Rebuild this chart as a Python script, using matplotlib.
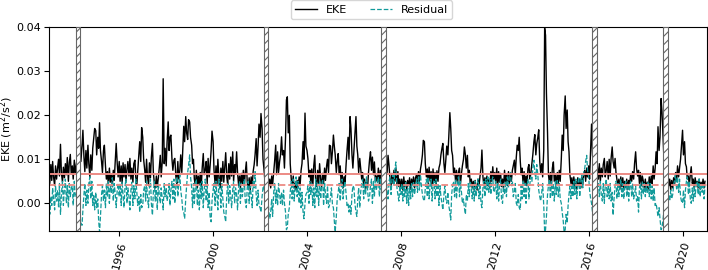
"""
EKE time series with residual, thresholds and event windows.
"""

import matplotlib
matplotlib.use('Agg')
import matplotlib.pyplot as plt
import matplotlib.dates as mdates
import numpy as np
import pandas as pd

plt.rcParams.update({
    'font.family': 'DejaVu Sans',
    'font.size': 8,
    'hatch.linewidth': 0.8,
})

# semi-monthly values, units of 1e-4 m^2/s^2, one row per year (1993..2020)
eke = [
    75, 45, 88, 52, 95, 60, 40, 85, 55, 78, 100, 62, 134, 70, 48, 82, 58, 90, 65, 104, 50, 92, 111, 66,        # 1993
    85, 55, 98, 70, 84, 100, 120, 140, 155, 95, 130, 166, 105, 72, 120, 80, 132, 90, 60, 110, 75, 125, 150, 170,  # 1994
    165, 110, 150, 125, 183, 120, 95, 70, 120, 132, 85, 55, 72, 42, 80, 48, 66, 38, 75, 52, 98, 136, 90, 60,     # 1995
    95, 50, 85, 45, 92, 60, 88, 50, 78, 95, 62, 102, 55, 80, 48, 90, 98, 58, 42, 74, 110, 140, 95, 172,        # 1996
    150, 100, 75, 48, 100, 62, 40, 92, 58, 105, 136, 70, 45, 35, 62, 38, 58, 80, 109, 60, 95, 283, 90, 125,     # 1997
    85, 140, 185, 120, 150, 155, 100, 75, 98, 102, 60, 45, 95, 55, 75, 110, 70, 120, 175, 140, 197, 160, 145, 190,  # 1998
    185, 150, 132, 90, 100, 55, 40, 75, 35, 62, 42, 70, 38, 80, 113, 65, 76, 95, 45, 102, 60, 85, 120, 164,     # 1999
    140, 75, 45, 85, 40, 100, 55, 35, 80, 50, 95, 48, 85, 115, 60, 42, 90, 55, 105, 62, 117, 50, 88, 70,       # 2000
    117, 70, 40, 62, 35, 68, 45, 75, 38, 70, 94, 48, 35, 58, 30, 60, 40, 72, 88, 110, 147, 85, 130, 180,       # 2001
    150, 204, 170, 100, 80, 55, 72, 48, 65, 40, 55, 35, 62, 42, 72, 95, 132, 65, 117, 70, 95, 110, 151, 110,     # 2002
    120, 80, 150, 235, 242, 160, 200, 90, 55, 40, 62, 35, 45, 30, 52, 38, 60, 40, 75, 90, 140, 100, 205, 130,    # 2003
    120, 102, 60, 75, 45, 78, 40, 85, 109, 50, 38, 75, 45, 90, 55, 38, 68, 45, 80, 52, 85, 100, 70, 132,       # 2004
    130, 90, 120, 155, 130, 110, 70, 95, 113, 65, 85, 45, 70, 35, 60, 45, 90, 120, 150, 100, 197, 170, 110, 80,   # 2005
    120, 150, 197, 130, 110, 70, 102, 80, 55, 70, 40, 55, 32, 48, 35, 70, 100, 117, 75, 105, 65, 94, 50, 62,     # 2006
    48, 80, 45, 75, 55, 80, 60, 65, 78, 90, 70, 109, 85, 55, 40, 68, 45, 75, 50, 80, 42, 72, 38, 55,          # 2007
    35, 55, 30, 60, 38, 50, 30, 52, 40, 58, 32, 55, 42, 60, 35, 58, 65, 45, 72, 50, 78, 90, 110, 143,         # 2008
    140, 90, 60, 78, 45, 82, 50, 72, 40, 78, 48, 70, 38, 74, 50, 80, 90, 110, 125, 136, 90, 70, 100, 130,      # 2009
    110, 150, 206, 170, 120, 109, 65, 80, 50, 75, 45, 70, 80, 42, 68, 85, 100, 128, 110, 80, 109, 60, 75, 45,    # 2010
    55, 35, 50, 30, 52, 38, 30, 55, 40, 60, 80, 121, 60, 40, 58, 45, 62, 40, 55, 35, 72, 50, 83, 55,          # 2011
    70, 45, 80, 40, 72, 48, 68, 38, 55, 35, 75, 48, 66, 40, 72, 45, 64, 50, 75, 85, 98, 65, 105, 132,         # 2012
    120, 150, 95, 65, 80, 48, 72, 45, 62, 40, 80, 88, 55, 68, 90, 110, 140, 156, 110, 135, 150, 167, 95, 70,    # 2013
    90, 60, 120, 398, 382, 250, 160, 65, 45, 70, 40, 80, 94, 50, 65, 42, 70, 45, 75, 50, 100, 155, 120, 200,    # 2014
    244, 170, 212, 140, 117, 65, 45, 58, 35, 60, 38, 50, 32, 58, 40, 55, 35, 60, 42, 65, 75, 50, 80, 60,       # 2015
    85, 55, 120, 180, 110, 90, 80, 75, 70, 85, 55, 90, 50, 80, 60, 88, 102, 60, 75, 95, 55, 100, 62, 102,      # 2016
    128, 95, 80, 102, 70, 55, 40, 55, 32, 60, 38, 58, 30, 50, 36, 55, 32, 52, 45, 65, 50, 72, 55, 90,         # 2017
    117, 80, 62, 75, 45, 70, 40, 62, 50, 35, 55, 30, 48, 32, 60, 38, 62, 45, 85, 55, 80, 117, 90, 174,        # 2018
    120, 150, 238, 208, 160, 110, 90, 70, 80, 55, 40, 55, 30, 52, 35, 58, 45, 70, 50, 85, 60, 80, 100, 130,     # 2019
    166, 110, 140, 90, 83, 55, 62, 40, 66, 83, 45, 55, 35, 58, 40, 50, 35, 55, 32, 48, 38, 55, 35, 50,        # 2020
]

residual = [
    25, -25, 15, -5, 35, 10, -15, 40, 5, 30, -8, 45, -25, 20, 50, -5, 35, 55, 0, 40, -10, 48, 15, 35,         # 1993
    40, -5, 50, 15, 20, 25, 5, -10, -30, -45, -50, -15, 20, 45, -5, 30, 0, 45, 60, 10, 50, -5, 20, -15,       # 1994
    25, -10, 10, -40, -65, -30, 20, 40, 5, 30, -10, 45, 15, 50, 0, 40, 25, 58, 5, 45, 20, -10, 30, 45,        # 1995
    15, 45, -5, 50, 20, -10, 40, 55, 0, 35, 15, -15, 30, 48, -5, 40, 10, 55, 25, -5, 15, -20, 20, -10,        # 1996
    -5, 30, 40, 5, 50, 15, -10, 35, 55, 0, -27, 25, 50, 5, 40, -15, 45, 20, 0, 35, 10, -15, 45, 15,           # 1997
    35, 5, 20, 45, -5, 30, 50, 10, 55, 0, 40, 60, 15, 45, 65, 30, 10, -15, -20, -35, 10, 40, 70, 85,          # 1998
    110, 60, 35, -10, 45, 0, 40, 55, -5, 30, -15, 45, 10, 50, -10, 30, 55, 5, 40, -10, 25, -30, -42, 5,       # 1999
    30, 45, -5, 50, 15, -15, 55, 35, -10, 45, 10, -20, -30, -42, 20, 45, 0, 40, 15, -10, 30, 50, 0, 35,       # 2000
    20, -15, 35, 50, 0, 45, 15, 40, 55, 5, -10, 35, 50, 0, 40, 20, -10, 50, 35, 72, 20, -5, 30, -5,           # 2001
    -10, -20, 15, 35, 40, 15, 30, 5, 20, -15, -35, -20, 10, -30, 25, 45, 0, 30, -5, 45, 20, 0, 25, -5,        # 2002
    30, 0, -20, -60, -55, -25, -10, 25, 50, 10, 55, 5, 40, 60, 15, 50, 0, 35, -10, 25, -20, -35, 0, 20,       # 2003
    25, 40, 0, 50, 20, 45, -5, 35, -10, 55, 15, 45, -5, 50, 10, 40, 55, -5, 45, 20, 0, 40, -10, -5,           # 2004
    15, 35, -5, -10, -40, -65, -30, 10, 25, 45, 5, 35, 55, 10, 40, 50, 20, -5, 0, -20, -5, -25, 20, 40,       # 2005
    35, 0, -20, -30, 10, 35, -10, 25, 45, 55, 10, 50, 20, 60, 30, 5, 15, 40, 55, 0, 50, 15, 60, 30,          # 2006
    45, 60, 15, 55, 30, 10, 45, 20, 55, 65, 25, 10, 50, 60, 20, 55, 65, 40, 80, 94, 35, 20, 5, 40,           # 2007
    20, 45, 5, 40, 15, 50, 0, 35, -5, 40, 10, 45, 15, 50, 20, 35, 55, 25, 60, 30, 65, 40, 20, 10,            # 2008
    5, 35, 55, 15, 60, 10, 45, 55, 5, 40, 50, 10, 55, 15, 45, -5, 40, 15, 0, -15, 20, 40, 10, 0,             # 2009
    25, -5, -20, -38, 20, 40, 50, 15, 55, 10, 45, 60, 15, 50, 25, 0, 10, -10, -25, 20, 5, 45, 15, 50,        # 2010
    35, 10, 45, 5, 50, 15, 40, 55, 10, 45, 0, -10, 35, 50, 15, 55, 30, 60, 25, 55, 20, 50, 60, 25,           # 2011
    30, 50, 10, 45, 5, 40, 55, 10, 0, 45, 20, 50, 15, 60, 35, 65, 70, 40, 50, 15, 25, 45, 0, -5,             # 2012
    20, -10, -15, 40, 10, 50, 15, 45, 0, 40, 55, 10, 45, 60, 50, 80, 98, 70, 55, 88, 65, 30, 15, 5,          # 2013
    25, 45, -5, -65, -60, -30, 20, 40, 55, 10, 50, 15, 45, 5, 50, 20, 55, 15, 45, 10, 0, -20, -40, -65,      # 2014
    -60, -25, -45, -5, 20, 40, 10, 45, 15, 50, 20, 55, 10, 45, 60, 15, 50, 65, 35, 70, 80, 95, 109, 75,      # 2015
    60, 30, 10, 0, -20, -40, -42, -30, 25, 40, 45, 15, 50, 20, 5, 45, 0, 40, 55, 15, 40, 10, 45, 5,          # 2016
    25, -27, 15, 40, 50, 10, 45, 15, 40, 55, 15, 45, 10, 40, 50, 15, 45, 5, 40, 50, 15, 45, 10, 20,          # 2017
    40, 5, 15, -20, 35, 45, 10, 50, 20, 45, 15, 40, 25, 50, 15, 45, 10, 40, 5, 35, -5, 0, -15, -30,          # 2018
    -10, -35, -60, -55, -40, -20, 5, 15, 25, 10, 20, 5, 30, 10, 20, 40, 55, 65, 30, 60, 25, 55, 15, 5,       # 2019
    0, 30, -10, 30, 50, 60, 20, 50, 10, 0, 35, 5, 40, 15, 45, 50, 20, 55, 15, 45, 25, 40, 10, 40,            # 2020
]

# thresholds (m^2/s^2)
upper_threshold = 0.0067
lower_threshold = 0.0042

# hatched event windows
event_starts = ['1994-02-28', '2002-02-28', '2007-02-28', '2016-02-28', '2019-03-07']
event_ends = ['1994-05-06', '2002-05-10', '2007-05-10', '2016-05-14', '2019-05-18']

dates = pd.date_range('1993-01-01', periods=len(eke), freq='SMS')
eke_vals = np.array(eke) * 1e-4
res_vals = np.array(residual) * 1e-4

fig = plt.figure(figsize=(7.08, 2.7), dpi=100)
ax = fig.add_axes([0.069, 0.146, 0.930, 0.753])

ax.plot(dates, eke_vals, color='black', lw=1.0, label='EKE', zorder=2)
ax.plot(dates, res_vals, color='#119a9a', lw=0.9, ls='--', label='Residual', zorder=2)

ax.axhline(upper_threshold, color='#ec8a84', lw=1.4, zorder=2.5)
ax.axhline(lower_threshold, color='#ec8a84', lw=1.3, ls='--', zorder=2.5)

for s, e in zip(event_starts, event_ends):
    ax.axvspan(pd.Timestamp(s), pd.Timestamp(e), facecolor='white',
               edgecolor='#666666', hatch='////', lw=0.8, zorder=3)

ax.set_ylim(-0.0062, 0.04)
ax.set_yticks([0.0, 0.01, 0.02, 0.03, 0.04])
ax.set_xlim(pd.Timestamp('1993-01-01'), pd.Timestamp('2021-01-20'))
ax.xaxis.set_major_locator(mdates.YearLocator(4))
ax.xaxis.set_major_formatter(mdates.DateFormatter('%Y'))
plt.setp(ax.get_xticklabels(), rotation=75)
ax.tick_params(axis='y', pad=2)

ax.set_ylabel('EKE (m$^2$/s$^2$)', labelpad=1)
ax.legend(loc='upper center', bbox_to_anchor=(0.49, 1.16), ncol=2,
          frameon=True, fontsize=8)

fig.savefig('out.png', dpi=100)
